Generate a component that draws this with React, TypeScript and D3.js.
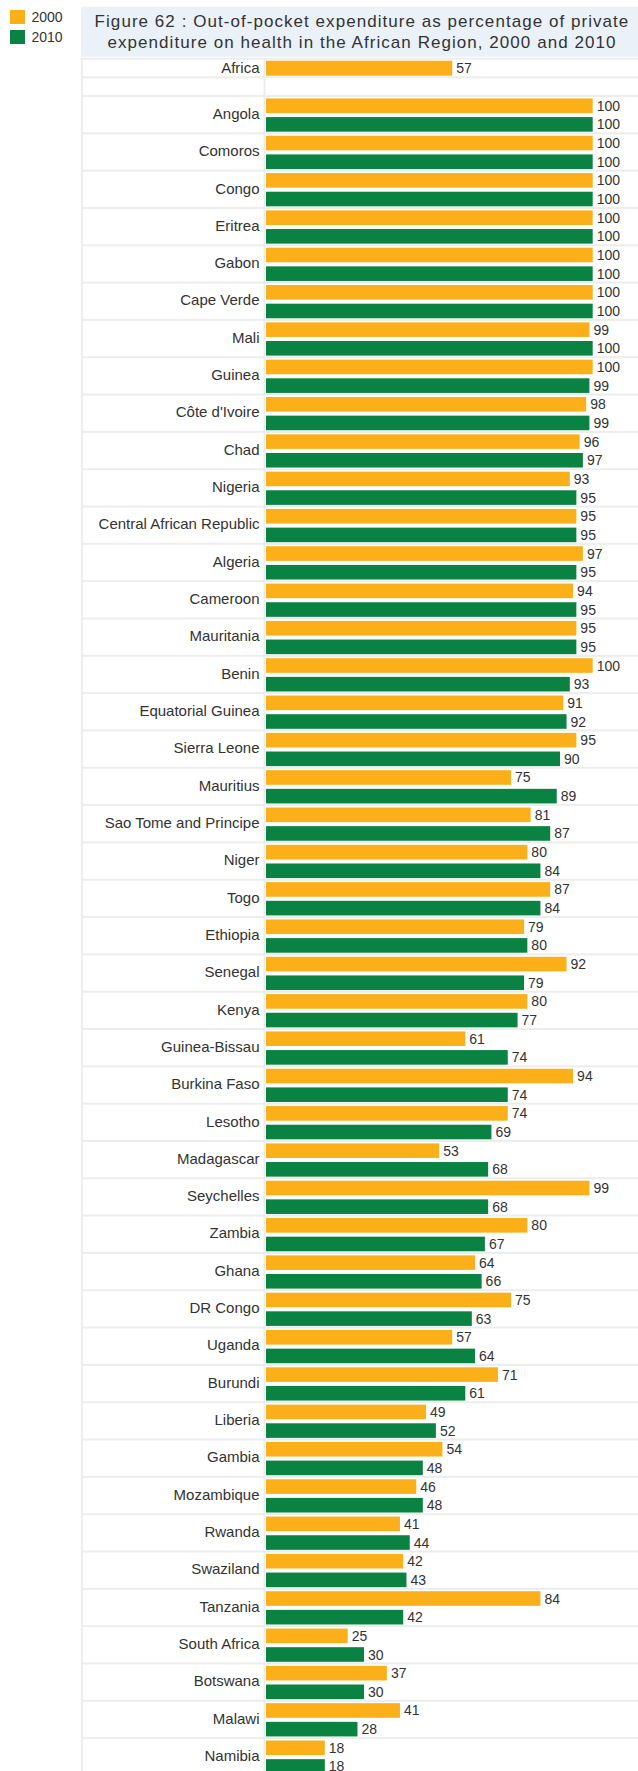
import React from "react";
import * as d3 from "d3";

const regionLabel = "Africa";
const regionValue2000 = 57;

const countries = [
  "Angola", "Comoros", "Congo", "Eritrea", "Gabon", "Cape Verde", "Mali", "Guinea",
  "Côte d'Ivoire", "Chad", "Nigeria", "Central African Republic", "Algeria", "Cameroon",
  "Mauritania", "Benin", "Equatorial Guinea", "Sierra Leone", "Mauritius",
  "Sao Tome and Principe", "Niger", "Togo", "Ethiopia", "Senegal", "Kenya",
  "Guinea-Bissau", "Burkina Faso", "Lesotho", "Madagascar", "Seychelles", "Zambia",
  "Ghana", "DR Congo", "Uganda", "Burundi", "Liberia", "Gambia", "Mozambique",
  "Rwanda", "Swaziland", "Tanzania", "South Africa", "Botswana", "Malawi", "Namibia",
];

const values2000 = [
  100, 100, 100, 100, 100, 100, 99, 100, 98, 96, 93, 95, 97, 94, 95, 100, 91, 95, 75,
  81, 80, 87, 79, 92, 80, 61, 94, 74, 53, 99, 80, 64, 75, 57, 71, 49, 54, 46, 41, 42,
  84, 25, 37, 41, 18,
];

const values2010 = [
  100, 100, 100, 100, 100, 100, 100, 99, 99, 97, 95, 95, 95, 95, 95, 93, 92, 90, 89,
  87, 84, 84, 80, 79, 77, 74, 74, 69, 68, 68, 67, 66, 63, 64, 61, 52, 48, 48, 44, 43,
  42, 30, 30, 28, 18,
];

const seriesNames = ["2000", "2010"];
const seriesColors = ["#FBB01A", "#0A8242"];

const titleLines = [
  "Figure 62 : Out-of-pocket expenditure as percentage of private",
  "expenditure on health in the African Region, 2000 and 2010",
];

const W = 638;
const H = 1771;
const FONT = "'Liberation Sans', Arial, Helvetica, sans-serif";
const TEXT = "#333333";
const GRID = "#EDEDED";

export default function App() {
  const x = d3.scaleLinear().domain([0, 100]).range([266, 592.7]);
  const nSlots = 2 + countries.length * 2;
  const slotH = 18.66;
  const top = 58.7;
  const y = d3.scaleLinear().domain([0, nSlots]).range([top, top + nSlots * slotH]);

  const tableLeft = 81;
  const divX = 264.5;
  const barOff = 2.4;
  const barH = 14.6;

  // rows: [startSlot, slotCount]
  const rows: { start: number; count: number }[] = [
    { start: 0, count: 1 },
    { start: 1, count: 1 },
    ...countries.map((_, i) => ({ start: 2 + i * 2, count: 2 })),
  ];

  return (
    <svg
      width={W}
      height={H}
      style={{ position: "absolute", left: 0, top: 0, background: "#fff" }}
      fontFamily={FONT}
    >
      {/* legend */}
      {seriesNames.map((s, i) => (
        <g key={s}>
          <rect x={10} y={10 + i * 20} width={15} height={14} fill={seriesColors[i]} />
          <text x={31.5} y={22.3 + i * 20} fontSize={14} fill={TEXT}>
            {s}
          </text>
        </g>
      ))}

      {/* title */}
      <rect x={81} y={6.7} width={W - 81} height={50} fill="#EAF1F9" />
      {titleLines.map((t, i) => (
        <text
          key={i}
          x={362}
          y={27.3 + i * 21}
          fontSize={17}
          letterSpacing={1.05}
          textAnchor="middle"
          fill={TEXT}
        >
          {t}
        </text>
      ))}

      {/* table grid */}
      <rect x={tableLeft} y={y(0) - 1} width={W - tableLeft} height={H - y(0) + 1} fill={GRID} />
      {rows.map((r, i) => {
        const y0 = y(r.start) + 1;
        const y1 = y(r.start + r.count) - 1;
        return (
          <g key={i}>
            <rect x={tableLeft + 2} y={y0} width={divX - 1 - tableLeft - 2} height={y1 - y0} fill="#fff" />
            <rect x={divX + 1} y={y0} width={W - divX - 1} height={y1 - y0} fill="#fff" />
          </g>
        );
      })}

      {/* Africa row */}
      <text x={259.5} y={(y(0) + y(1)) / 2 + 5} fontSize={15} textAnchor="end" fill={TEXT}>
        {regionLabel}
      </text>
      <rect
        x={x(0)}
        y={y(0) + 2}
        width={x(regionValue2000) - x(0)}
        height={15}
        fill={seriesColors[0]}
      />
      <text x={x(regionValue2000) + 4} y={(y(0) + y(1)) / 2 + 5} fontSize={14} fill={TEXT}>
        {regionValue2000}
      </text>

      {/* countries */}
      {countries.map((c, i) => {
        const s = 2 + i * 2;
        const vals = [values2000[i], values2010[i]];
        return (
          <g key={c}>
            <text x={259.5} y={(y(s) + y(s + 2)) / 2 + 4.2} fontSize={15} textAnchor="end" fill={TEXT}>
              {c}
            </text>
            {vals.map((v, k) => (
              <g key={k}>
                <rect
                  x={x(0)}
                  y={y(s + k) + barOff}
                  width={x(v) - x(0)}
                  height={barH}
                  fill={seriesColors[k]}
                />
                <text
                  x={x(v) + 4}
                  y={y(s + k) + barOff + barH / 2 + 5}
                  fontSize={14}
                  fill={TEXT}
                >
                  {v}
                </text>
              </g>
            ))}
          </g>
        );
      })}
    </svg>
  );
}
